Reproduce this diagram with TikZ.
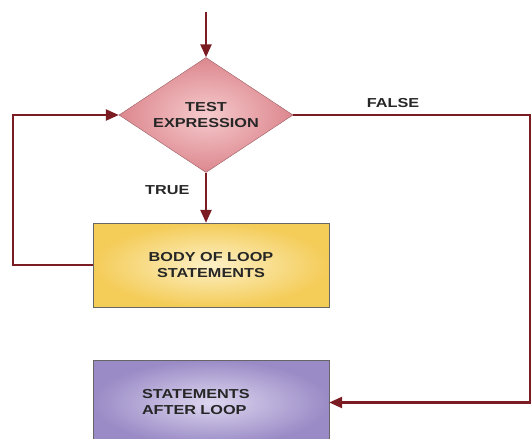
\documentclass[tikz,border=0pt]{standalone}
\usepackage{fontspec}
\newfontfamily\flowfont[FakeStretch=1.25]{Liberation Sans}
\usetikzlibrary{arrows.meta, positioning, shapes.geometric}
\definecolor{loopRed}{HTML}{7A1C22}
\definecolor{testPink}{HTML}{DC878E}
\definecolor{testLight}{HTML}{F6CBCD}
\definecolor{bodyGold}{HTML}{F4CC58}
\definecolor{bodyLight}{HTML}{FCF0C6}
\definecolor{afterViolet}{HTML}{9A8BC6}
\definecolor{afterLight}{HTML}{DDD6EF}

\begin{document}
\begin{tikzpicture}[x=1pt, y=-1pt, >={Triangle[length=13pt,width=11pt]},
    flow/.style={line width=2.4pt, loopRed},
    lbl/.style={font=\flowfont\bfseries\fontsize{13}{16}\selectfont, text=black!85},
    testshape/.style={diamond, aspect=1.51, inner sep=0pt, minimum width=174pt, minimum height=115pt,
        draw=testPink!70!black, thin, inner color=testLight, outer color=testPink, lbl, align=center},
    boxshape/.style={rectangle, inner sep=0pt, minimum width=236pt, draw=black!60, thin, lbl}]
    \clip (0,0) rectangle (531,439);

    % decision and the two blocks
    \node[testshape] (test) at (206,115) {TEST\\EXPRESSION};
    \node[boxshape, minimum height=84pt, inner color=bodyLight, outer color=bodyGold, align=center]
        (body) at (211,265) {BODY OF LOOP\\STATEMENTS};
    \node[boxshape, minimum height=85pt, inner color=afterLight, outer color=afterViolet,
        text width=138pt, align=left] (after) at (211,402.5) {STATEMENTS\\AFTER LOOP};

    \coordinate (start) at (206,12);
    \coordinate (falseCorner) at (530,115);

    \draw[flow, ->] (start) -- (test.north);
    \draw[flow, ->] (test.south) -- (test.south |- body.north) node[lbl, pos=0.35, left=12pt] {TRUE};
    \draw[flow, ->] (body.west) -- ++(-80,0) |- (test.west);
    \draw[flow, ->] (test.east) -- (falseCorner) |- (after.east);
    \node[lbl] (falseLbl) at (393,103) {FALSE};
\end{tikzpicture}
\end{document}
